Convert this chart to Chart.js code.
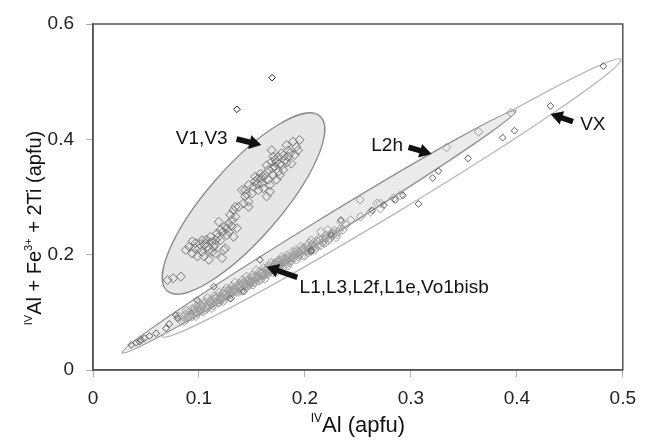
<!DOCTYPE html>
<html>
<head>
<meta charset="utf-8">
<script src="https://cdn.jsdelivr.net/npm/chart.js@4.4.1/dist/chart.umd.min.js"></script>
<style>
  body { margin: 0; background: #fff; }
  #wrap { width: 646px; height: 440px; }
</style>
</head>
<body>
<div id="wrap"><canvas id="chart" width="646" height="440"></canvas></div>
<script>
// axis ticks
const xTicks = [0, 0.1, 0.2, 0.3, 0.4, 0.5];
const yTicks = [0, 0.2, 0.4, 0.6];

// V1,V3 analyses
const v13Points = [
  [0.0704,0.156],[0.0757,0.159],[0.0829,0.162],
  [0.0876,0.208],[0.0907,0.214],[0.0938,0.202],[0.0938,0.223],[0.0969,0.220],[0.0985,0.197],
  [0.1000,0.211],[0.1031,0.225],[0.1031,0.205],[0.1047,0.197],[0.1063,0.220],[0.1078,0.214],
  [0.1094,0.191],[0.1109,0.231],[0.1125,0.205],[0.1140,0.214],[0.1156,0.225],[0.1156,0.202],
  [0.1172,0.237],[0.1187,0.257],[0.1203,0.243],[0.1203,0.225],[0.1218,0.194],[0.1234,0.208],
  [0.1249,0.249],[0.1249,0.211],[0.1265,0.234],[0.1281,0.254],[0.1281,0.240],[0.1296,0.269],
  [0.1312,0.260],[0.1312,0.249],[0.1327,0.277],[0.1327,0.231],[0.1343,0.266],[0.1343,0.283],
  [0.1358,0.246],[0.1374,0.283],[0.1050,0.217],[0.1120,0.222],[0.1260,0.245],[0.1090,0.208],
  [0.1180,0.230],[0.0960,0.211],[0.1010,0.218],[0.1070,0.226],[0.1150,0.218],[0.1230,0.240],
  [0.1405,0.312],[0.1421,0.289],[0.1436,0.301],[0.1436,0.312],[0.1468,0.292],[0.1468,0.283],
  [0.1468,0.321],[0.1499,0.306],[0.1514,0.318],[0.1530,0.327],[0.1530,0.335],[0.1561,0.332],
  [0.1561,0.312],[0.1592,0.324],[0.1592,0.332],[0.1608,0.315],[0.1623,0.338],[0.1639,0.301],
  [0.1639,0.355],[0.1654,0.330],[0.1654,0.347],[0.1670,0.309],[0.1670,0.321],[0.1686,0.381],
  [0.1686,0.361],[0.1701,0.338],[0.1701,0.370],[0.1717,0.353],[0.1732,0.361],[0.1732,0.330],
  [0.1748,0.344],[0.1748,0.370],[0.1763,0.338],[0.1779,0.355],[0.1779,0.376],[0.1795,0.347],
  [0.1810,0.364],[0.1826,0.390],[0.1841,0.370],[0.1841,0.381],[0.1873,0.358],[0.1888,0.396],
  [0.1904,0.373],[0.1919,0.387],[0.1935,0.381],[0.1950,0.399],[0.1600,0.336],[0.1760,0.357],
  [0.1860,0.376],[0.1690,0.350],[0.1550,0.322],[0.1580,0.340],[0.1720,0.365],[0.1800,0.372],
  [0.1450,0.305],[0.1830,0.360]
];

// two isolated analyses above the V1,V3 field
const outlierPoints = [[0.1358,0.452],[0.1690,0.507]];

// L1,L3,L2f,L1e,Vo1bisb + L2h analyses (light grey)
const lPoints = [
  [0.081,0.093],[0.083,0.085],[0.085,0.092],[0.086,0.084],[0.088,0.103],[0.090,0.094],
  [0.091,0.101],[0.093,0.092],[0.094,0.107],[0.096,0.101],[0.097,0.093],[0.099,0.108],
  [0.100,0.116],[0.101,0.102],[0.103,0.110],[0.104,0.101],[0.106,0.118],[0.107,0.110],
  [0.108,0.125],[0.110,0.110],[0.111,0.119],[0.112,0.107],[0.114,0.128],[0.115,0.119],
  [0.116,0.126],[0.118,0.116],[0.119,0.135],[0.120,0.122],[0.121,0.128],[0.123,0.119],
  [0.124,0.137],[0.125,0.130],[0.126,0.142],[0.128,0.129],[0.129,0.139],[0.130,0.125],
  [0.131,0.145],[0.132,0.136],[0.134,0.152],[0.135,0.135],[0.136,0.145],[0.137,0.135],
  [0.138,0.150],[0.139,0.144],[0.141,0.156],[0.142,0.138],[0.143,0.150],[0.144,0.146],
  [0.145,0.162],[0.146,0.145],[0.147,0.158],[0.149,0.153],[0.150,0.164],[0.151,0.148],
  [0.152,0.161],[0.153,0.154],[0.154,0.173],[0.155,0.160],[0.157,0.170],[0.158,0.156],
  [0.159,0.169],[0.160,0.163],[0.161,0.177],[0.162,0.158],[0.164,0.172],[0.165,0.166],
  [0.166,0.181],[0.167,0.171],[0.168,0.186],[0.170,0.169],[0.171,0.182],[0.172,0.178],
  [0.173,0.187],[0.174,0.171],[0.176,0.186],[0.177,0.180],[0.178,0.196],[0.179,0.180],
  [0.181,0.194],[0.182,0.188],[0.183,0.199],[0.184,0.181],[0.186,0.195],[0.187,0.189],
  [0.188,0.205],[0.190,0.195],[0.191,0.204],[0.192,0.191],[0.194,0.205],[0.195,0.199],
  [0.196,0.214],[0.198,0.199],[0.199,0.209],[0.200,0.198],[0.202,0.216],[0.203,0.209],
  [0.204,0.220],[0.206,0.208],[0.207,0.219],[0.209,0.208],[0.210,0.219],[0.212,0.216],
  [0.213,0.228],[0.215,0.216],[0.217,0.228],[0.218,0.224],[0.220,0.234],[0.222,0.224],
  [0.224,0.235],[0.226,0.232],[0.228,0.242],[0.230,0.235],[0.233,0.243],[0.236,0.243],
  [0.239,0.252],
  [0.0875,0.097],[0.0925,0.095],[0.0955,0.106],[0.0985,0.098],[0.1025,0.112],[0.1055,0.104],
  [0.1085,0.113],[0.1125,0.122],[0.1135,0.112],[0.1175,0.128],[0.1205,0.121],[0.1225,0.133],
  [0.1255,0.126],[0.1275,0.138],[0.1305,0.131],[0.1335,0.141],[0.1355,0.144],[0.1385,0.140],
  [0.1405,0.150],[0.1435,0.144],[0.1455,0.155],[0.1485,0.150],[0.1505,0.158],[0.1525,0.152],
  [0.1555,0.164],[0.1575,0.160],[0.1605,0.170],[0.1625,0.166],[0.1655,0.176],[0.1685,0.174],
  [0.1705,0.184],[0.1735,0.176],[0.1755,0.190],[0.1785,0.185],[0.1805,0.188],[0.1835,0.195],
  [0.1855,0.186],[0.1875,0.198],[0.1905,0.200],[0.1935,0.196],[0.1965,0.207],[0.2005,0.206],
  [0.2045,0.212],[0.2085,0.214],[0.2115,0.223],[0.2165,0.221],[0.2195,0.229],[0.2235,0.229],
  [0.2275,0.236],[0.2315,0.240],
  [0.0895,0.090],[0.0945,0.103],[0.0975,0.101],[0.1015,0.106],[0.1045,0.115],[0.1075,0.106],
  [0.1095,0.118],[0.1155,0.123],[0.1195,0.117],[0.1215,0.126],[0.1245,0.133],[0.1285,0.132],
  [0.1315,0.140],[0.1345,0.138],[0.1375,0.148],[0.1395,0.137],[0.1425,0.153],[0.1445,0.150],
  [0.1475,0.147],[0.1495,0.160],[0.1535,0.158],[0.1565,0.155],[0.1585,0.166],[0.1615,0.163],
  [0.1635,0.175],[0.1665,0.169],[0.1695,0.179],[0.1725,0.183],[0.1745,0.179],[0.1775,0.191],
  [0.1815,0.182],[0.1845,0.190],[0.1885,0.193],[0.1915,0.208],[0.1955,0.203],[0.1985,0.212],
  [0.2025,0.204],[0.2065,0.216],[0.2105,0.211],[0.2145,0.225],[0.2185,0.220],[0.2255,0.238],
  [0.2295,0.230],
  [0.206,0.225],[0.215,0.240],[0.2215,0.243],[0.234,0.257],[0.2433,0.260],[0.2526,0.266],
  [0.262,0.274],[0.2713,0.280],[0.2713,0.289],[0.2838,0.298],[0.290,0.303],[0.2682,0.289],
  [0.252,0.295],[0.3336,0.386],[0.364,0.413],[0.3944,0.446]
];

// VX analyses and darker L points
const darkPoints = [
  [0.4816,0.527],[0.4318,0.458],[0.3978,0.415],[0.3866,0.403],[0.354,0.367],[0.3259,0.345],
  [0.3206,0.333],[0.3072,0.288],[0.2925,0.303],[0.2853,0.295],[0.2745,0.286],[0.2636,0.277],
  [0.2059,0.205],[0.2246,0.234],[0.2340,0.260],[0.2059,0.208],[0.1576,0.191],[0.1421,0.136],
  [0.1296,0.124],[0.1140,0.1446],[0.0984,0.121],[0.0782,0.095],
  [0.0361,0.0434],[0.0439,0.0491],[0.0486,0.055],[0.0533,0.059],[0.0595,0.0636],[0.0689,0.0723],
  [0.0797,0.0896],[0.0408,0.0474],[0.0455,0.0521],[0.0720,0.0798]
];

// fields drawn round the groups: two tips of the long axis and width ratio
const fieldVX = { from: [0.0657, 0.0577], to: [0.4981, 0.5388], ratio: 0.056 };
const fieldL = { from: [0.0278, 0.0300], to: [0.3991, 0.4496], ratio: 0.043 };
const fieldV13 = { from: [0.0699, 0.1373], to: [0.2142, 0.4401], ratio: 0.314 };

// labels with arrows (tail -> tip), in data units
const callouts = [
  { text: 'V1,V3', at: [0.0782, 0.4014], tail: [0.1355, 0.4006], tip: [0.1589, 0.3902] },
  { text: 'L2h', at: [0.2626, 0.3893], tail: [0.2978, 0.3862], tip: [0.3196, 0.3745] },
  { text: 'VX', at: [0.4598, 0.4257], tail: [0.4530, 0.4306], tip: [0.4318, 0.4439] },
  { text: 'L1,L3,L2f,L1e,Vo1bisb', at: [0.1950, 0.1422], tail: [0.1928, 0.1607], tip: [0.1638, 0.1791] }
];

const FONT = "'Liberation Sans', Arial, sans-serif";

function toXY(arr) {
    return arr.map(p => ({ x: p[0], y: p[1] }));
}

function drawField(ctx, xs, ys, f, fill, stroke) {
    const x1 = xs.getPixelForValue(f.from[0]), y1 = ys.getPixelForValue(f.from[1]);
    const x2 = xs.getPixelForValue(f.to[0]), y2 = ys.getPixelForValue(f.to[1]);
    const a = Math.hypot(x2 - x1, y2 - y1) / 2;
    ctx.beginPath();
    ctx.ellipse((x1 + x2) / 2, (y1 + y2) / 2, a, a * f.ratio, Math.atan2(y2 - y1, x2 - x1), 0, Math.PI * 2);
    if (fill) { ctx.fillStyle = fill; ctx.fill(); }
    ctx.strokeStyle = stroke;
    ctx.lineWidth = 1.3;
    ctx.stroke();
}

function drawArrow(ctx, x0, y0, x1, y1) {
    const len = Math.hypot(x1 - x0, y1 - y0);
    const head = 12, hw = 7, sw = 2.8;
    ctx.save();
    ctx.translate(x1, y1);
    ctx.rotate(Math.atan2(y1 - y0, x1 - x0));
    ctx.beginPath();
    ctx.moveTo(0, 0);
    ctx.lineTo(-head, -hw);
    ctx.lineTo(-head, -sw);
    ctx.lineTo(-len, -sw);
    ctx.lineTo(-len, sw);
    ctx.lineTo(-head, sw);
    ctx.lineTo(-head, hw);
    ctx.closePath();
    ctx.fillStyle = '#111';
    ctx.fill();
    ctx.restore();
}

// ellipses behind the points
const fieldsPlugin = {
    id: 'fields',
    beforeDatasetsDraw(chart) {
        const { ctx, scales: { x, y } } = chart;
        ctx.save();
        drawField(ctx, x, y, fieldVX, null, '#b8b8b8');
        drawField(ctx, x, y, fieldL, '#ebebeb', '#909090');
        drawField(ctx, x, y, fieldV13, '#e6e6e6', '#8a8a8a');
        ctx.restore();
    },
    afterDatasetsDraw(chart) {
        const { ctx, scales: { x, y }, chartArea: ca } = chart;
        ctx.save();
        callouts.forEach(c => {
            drawArrow(ctx, x.getPixelForValue(c.tail[0]), y.getPixelForValue(c.tail[1]),
                x.getPixelForValue(c.tip[0]), y.getPixelForValue(c.tip[1]));
            ctx.fillStyle = '#111';
            ctx.font = '19px ' + FONT;
            ctx.textAlign = 'left';
            ctx.textBaseline = 'middle';
            ctx.fillText(c.text, x.getPixelForValue(c.at[0]), y.getPixelForValue(c.at[1]));
        });
        // frame round the plot
        ctx.strokeStyle = '#555';
        ctx.lineWidth = 1.5;
        ctx.strokeRect(ca.left, ca.top, ca.right - ca.left, ca.bottom - ca.top);
        ctx.restore();
    },
    afterDraw(chart) {
        const { ctx, chartArea: ca } = chart;
        ctx.save();
        ctx.fillStyle = '#111';
        ctx.textBaseline = 'alphabetic';
        ctx.textAlign = 'left';
        // x title: IV superscript + Al (apfu)
        ctx.font = '12px ' + FONT;
        const wSup = ctx.measureText('IV').width;
        ctx.font = '22px ' + FONT;
        const wMain = ctx.measureText('Al (apfu)').width;
        let sx = (ca.left + ca.right) / 2 - (wSup + wMain) / 2;
        ctx.font = '12px ' + FONT;
        ctx.fillText('IV', sx, 422);
        ctx.font = '22px ' + FONT;
        ctx.fillText('Al (apfu)', sx + wSup, 432);

        // y title, rotated
        const parts = [
            { t: 'IV', sup: true }, { t: 'Al + Fe', sup: false },
            { t: '3+', sup: true }, { t: ' + 2Ti (apfu)', sup: false }
        ];
        let total = 0;
        parts.forEach(p => {
            ctx.font = (p.sup ? '11px ' : '20px ') + FONT;
            p.w = ctx.measureText(p.t).width;
            total += p.w;
        });
        ctx.translate(41, 228);
        ctx.rotate(-Math.PI / 2);
        let px = -total / 2;
        parts.forEach(p => {
            ctx.font = (p.sup ? '11px ' : '20px ') + FONT;
            ctx.fillText(p.t, px, p.sup ? -9 : 0);
            px += p.w;
        });
        ctx.restore();
    }
};

const tickFmt = v => String(+Number(v).toFixed(1));

new Chart(document.getElementById('chart').getContext('2d'), {
    type: 'scatter',
    data: {
        datasets: [
            {
                label: 'outliers',
                data: toXY(outlierPoints),
                pointStyle: 'rectRot',
                radius: 3.3,
                borderColor: '#222',
                borderWidth: 1,
                backgroundColor: 'rgba(0,0,0,0)'
            },
            {
                label: 'V1,V3',
                data: toXY(v13Points),
                pointStyle: 'rectRot',
                radius: 4.5,
                borderColor: '#777',
                borderWidth: 1,
                backgroundColor: 'rgba(0,0,0,0)'
            },
            {
                label: 'dark',
                data: toXY(darkPoints),
                pointStyle: 'rectRot',
                radius: 3.4,
                borderColor: '#5e5e5e',
                borderWidth: 1,
                backgroundColor: 'rgba(0,0,0,0)'
            },
            {
                label: 'L',
                data: toXY(lPoints),
                pointStyle: 'rectRot',
                radius: 4.3,
                borderColor: '#9c9c9c',
                borderWidth: 1,
                backgroundColor: 'rgba(0,0,0,0)'
            }
        ]
    },
    options: {
        responsive: false,
        animation: false,
        devicePixelRatio: 1,
        layout: { padding: { top: 24, right: 18, left: 0, bottom: 0 } },
        plugins: {
            legend: { display: false },
            tooltip: { enabled: false }
        },
        scales: {
            x: {
                type: 'linear',
                min: 0,
                max: 0.5,
                afterBuildTicks: s => { s.ticks = xTicks.map(v => ({ value: v })); },
                afterFit: s => { s.height = 70; },
                grid: { drawOnChartArea: false, drawTicks: true, tickLength: 7, color: '#b0b0b0' },
                border: { display: true, color: '#555', width: 1.5 },
                ticks: { callback: tickFmt, color: '#222', padding: 10, font: { family: FONT, size: 19 }, maxRotation: 0 }
            },
            y: {
                type: 'linear',
                min: 0,
                max: 0.6,
                afterBuildTicks: s => { s.ticks = yTicks.map(v => ({ value: v })); },
                afterFit: s => { s.width = 93; },
                grid: { drawOnChartArea: false, drawTicks: true, tickLength: 7, color: '#b0b0b0' },
                border: { display: true, color: '#555', width: 1.5 },
                ticks: { callback: tickFmt, color: '#222', padding: 12, font: { family: FONT, size: 19 } }
            }
        }
    },
    plugins: [fieldsPlugin]
});
</script>
</body>
</html>
